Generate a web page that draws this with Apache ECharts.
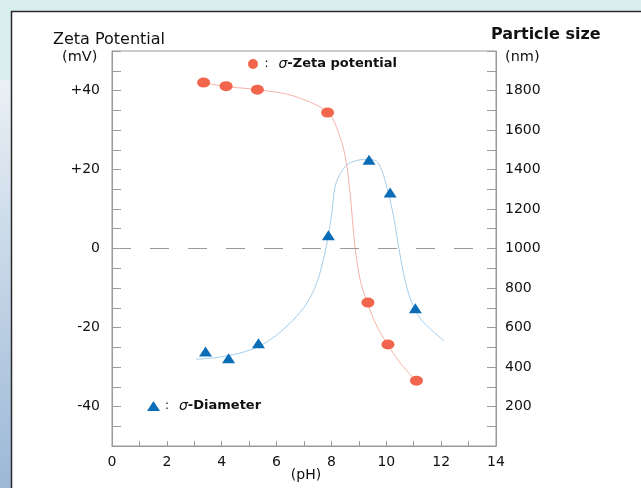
<!DOCTYPE html>
<html>
<head>
<meta charset="utf-8">
<script src="https://cdn.jsdelivr.net/npm/echarts@6/dist/echarts.min.js"></script>
<style>
html,body{margin:0;padding:0;background:#fff;}
#chart{width:641px;height:488px;}
</style>
</head>
<body>
<div id="chart"></div>
<script>
// measured points, zeta potential (mV) vs pH
var zetaPH = [3.34, 4.16, 5.30, 7.86, 9.33, 10.06, 11.10];
var zetaMV = [42.0, 41.1, 40.2, 34.4, -13.7, -24.3, -33.5];
// measured points, particle diameter (nm) vs pH
var sizePH = [3.41, 4.25, 5.34, 7.89, 9.37, 10.14, 11.06];
var sizeNM = [478, 444, 520, 1067, 1449, 1283, 697];

// fitted curves
var zetaCurvePH = [3.34, 4.18, 5.31, 6.59, 7.88, 8.32, 8.53, 8.68, 8.86, 9.05, 9.30, 9.67, 10.04, 10.51, 11.06];
var zetaCurveMV = [42.0, 41.0, 40.2, 38.7, 34.4, 28.1, 22.3, 14.0, 0.3, -8.0, -13.6, -19.9, -24.2, -29.0, -33.3];
var sizeCurvePH = [3.07, 3.80, 4.65, 5.34, 6.00, 6.60, 7.10, 7.46, 7.70, 7.89, 8.01, 8.13, 8.32, 8.62, 9.17, 9.60, 9.84, 10.05, 10.27, 10.45, 10.63, 10.88, 11.25, 12.10];
var sizeCurveNM = [439, 448, 470, 503, 562, 637, 722, 823, 941, 1067, 1177, 1311, 1379, 1429, 1451, 1446, 1395, 1294, 1160, 1008, 874, 744, 643, 533];

// tick labels
var phLabels = [0, 2, 4, 6, 8, 10, 12, 14];
var mvLabels = [40, 20, 0, -20, -40];
var nmLabels = [200, 400, 600, 800, 1000, 1200, 1400, 1600, 1800];

function zip(a, b){
    var out = [];
    for(var i=0;i<a.length;i++){ out.push([a[i], b[i]]); }
    return out;
}

var FONT = 'DejaVu Sans';
var gray = '#9a9a9a';

var mychart = echarts.init(document.getElementById('chart'));
var option = {
    backgroundColor: '#d9efed',
    animation: false,
    textStyle: { fontFamily: FONT },
    grid: {
        left: 112, right: 145, top: 51, bottom: 42,
        show: true, borderColor: gray, borderWidth: 1, backgroundColor: '#fff'
    },
    // 背景和轴标题
    graphic: [
        { type: 'rect', z: -100, shape: { x: 0, y: 80, width: 12, height: 408 },
          style: { fill: new echarts.graphic.LinearGradient(0, 0, 0, 1, [
              { offset: 0, color: '#eaf0f5' }, { offset: 1, color: '#9cb8d7' }]) } },
        { type: 'rect', z: -90, shape: { x: 11.5, y: 11.5, width: 700, height: 600 },
          style: { fill: '#fff', stroke: '#2a2a2a', lineWidth: 1.5 } },
        { type: 'text', x: 53, y: 40, style: { text: 'Zeta Potential', font: '16px DejaVu Sans', fill: '#111', textVerticalAlign: 'middle' } },
        { type: 'text', x: 62, y: 57, style: { text: '(mV)', font: '14.5px DejaVu Sans', fill: '#111', textVerticalAlign: 'middle' } },
        { type: 'text', x: 491, y: 35, style: { text: 'Particle size', font: 'bold 16px DejaVu Sans', fill: '#111', textVerticalAlign: 'middle' } },
        { type: 'text', x: 505, y: 57, style: { text: '(nm)', font: '14.5px DejaVu Sans', fill: '#111', textVerticalAlign: 'middle' } },
        { type: 'text', x: 306, y: 475, style: { text: '(pH)', font: '14px DejaVu Sans', fill: '#111', textAlign: 'center', textVerticalAlign: 'middle' } }
    ],
    legend: [
        {
            data: ['σ-Zeta potential'], left: 248, top: 57, padding: 0,
            itemWidth: 13, itemHeight: 10,
            formatter: function(){ return '{c|:}{s|σ}{b|-Zeta potential}'; },
            textStyle: { rich: {
                c: { fontSize: 12, width: 14, color: '#111' },
                s: { fontSize: 14, fontStyle: 'italic', color: '#111' },
                b: { fontSize: 13, fontWeight: 'bold', color: '#111' }
            } }
        },
        {
            data: ['σ-Diameter'], left: 147, top: 399, padding: 0,
            itemWidth: 13, itemHeight: 10,
            formatter: function(){ return '{c|:}{s|σ}{b|-Diameter}'; },
            textStyle: { rich: {
                c: { fontSize: 12, width: 14, color: '#111' },
                s: { fontSize: 14, fontStyle: 'italic', color: '#111' },
                b: { fontSize: 13, fontWeight: 'bold', color: '#111' }
            } }
        }
    ],
    xAxis: {
        type: 'value', min: 0, max: 14, interval: 1,
        axisLine: { onZero: false, lineStyle: { color: gray } },
        axisTick: { inside: true, length: 5, lineStyle: { color: gray } },
        axisLabel: {
            margin: 9, fontSize: 14, color: '#111', fontFamily: FONT,
            formatter: function(v){ return phLabels.indexOf(v) >= 0 ? String(v) : ''; }
        },
        splitLine: { show: false }
    },
    yAxis: [
        {
            type: 'value', min: -50, max: 50, interval: 5, position: 'left',
            axisLine: { show: true, lineStyle: { color: gray } },
            axisTick: { inside: true, length: 9, lineStyle: { color: gray } },
            axisLabel: {
                margin: 12, fontSize: 14, color: '#111', fontFamily: FONT,
                formatter: function(v){
                    if(mvLabels.indexOf(v) < 0) return '';
                    return v > 0 ? '+' + v : String(v);
                }
            },
            splitLine: { show: false }
        },
        {
            type: 'value', min: 0, max: 2000, interval: 100, position: 'right',
            axisLine: { show: true, lineStyle: { color: gray } },
            axisTick: { inside: true, length: 9, lineStyle: { color: gray } },
            axisLabel: {
                margin: 9, fontSize: 14, color: '#111', fontFamily: FONT,
                formatter: function(v){ return nmLabels.indexOf(v) >= 0 ? String(v) : ''; }
            },
            splitLine: { show: false }
        }
    ],
    series: [
        {
            name: 'zetaCurve', type: 'line', yAxisIndex: 0,
            data: zip(zetaCurvePH, zetaCurveMV),
            smooth: 0.3, showSymbol: false, silent: true,
            lineStyle: { color: '#f6b2a4', width: 1 },
            markLine: {
                silent: true, symbol: 'none', label: { show: false },
                lineStyle: { color: gray, type: [19, 19], width: 1 },
                data: [[{ coord: [0, 0] }, { coord: [13.3, 0] }]]
            },
            z: 2
        },
        {
            name: 'sizeCurve', type: 'line', yAxisIndex: 1,
            data: zip(sizeCurvePH, sizeCurveNM),
            smooth: 0.3, showSymbol: false, silent: true,
            lineStyle: { color: '#a6cdea', width: 1 },
            z: 2
        },
        {
            name: 'σ-Zeta potential', type: 'scatter', yAxisIndex: 0,
            data: zip(zetaPH, zetaMV),
            symbol: 'circle', symbolSize: [13, 10],
            itemStyle: { color: '#f1654c', opacity: 1 },
            z: 5
        },
        {
            name: 'σ-Diameter', type: 'scatter', yAxisIndex: 1,
            data: zip(sizePH, sizeNM),
            symbol: 'triangle', symbolSize: [13, 10],
            itemStyle: { color: '#0b6db6', opacity: 1 },
            z: 5
        }
    ]
};
mychart.setOption(option);
</script>
</body>
</html>
